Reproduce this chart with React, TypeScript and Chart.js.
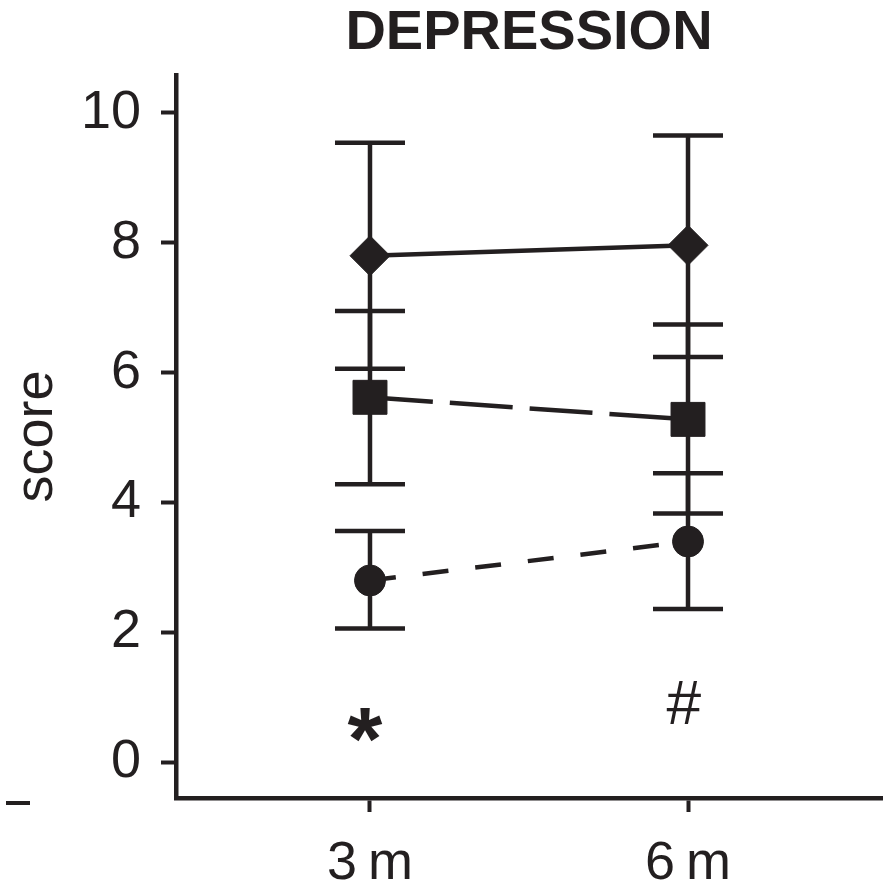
import React, { useEffect, useRef } from "react";
import { Chart, registerables } from "chart.js";

Chart.register(...registerables);

// ---- data ----
const categories = ["3\u2009m", "6\u2009m"];
const xPositions = [1, 2];
const yTicks = [0, 2, 4, 6, 8, 10];

const diamondMean = [7.8, 7.96];
const diamondLow = [6.06, 6.24];
const diamondHigh = [9.54, 9.65];

const squareMean = [5.62, 5.28];
const squareLow = [4.28, 3.83];
const squareHigh = [6.95, 6.74];

const circleMean = [2.8, 3.4];
const circleLow = [2.06, 2.36];
const circleHigh = [3.56, 4.45];

const markLabels = ["*", "#"];
const markValues = [0.58, 0.92];

// ---- style ----
const INK = "#231f20";
const FAMILY = "'Liberation Sans', Arial, Helvetica, sans-serif";
const W = 888;
const H = 895;

const errorBarPlugin = {
  id: "errorBarsAndMarks",
  beforeDatasetsDraw(chart: any) {
    const { ctx, scales } = chart;
    const x = scales.x;
    const y = scales.y;
    const groups = [
      [diamondLow, diamondHigh],
      [squareLow, squareHigh],
      [circleLow, circleHigh],
    ];
    ctx.save();
    ctx.strokeStyle = INK;
    ctx.lineWidth = 4.5;
    ctx.lineCap = "butt";
    groups.forEach(([lo, hi]) => {
      xPositions.forEach((xv, i) => {
        const px = x.getPixelForValue(xv);
        const top = y.getPixelForValue(hi[i]);
        const bot = y.getPixelForValue(lo[i]);
        ctx.beginPath();
        ctx.moveTo(px, top);
        ctx.lineTo(px, bot);
        ctx.moveTo(px - 35, top);
        ctx.lineTo(px + 35, top);
        ctx.moveTo(px - 35, bot);
        ctx.lineTo(px + 35, bot);
        ctx.stroke();
      });
    });
    ctx.restore();
  },
  afterDatasetsDraw(chart: any) {
    const { ctx, scales, chartArea } = chart;
    const x = scales.x;
    const y = scales.y;
    const targets = [
      { bold: true, ink: 34, dx: -5 },
      { bold: false, ink: 43, dx: -4 },
    ];
    ctx.save();
    ctx.fillStyle = INK;
    ctx.textAlign = "left";
    ctx.textBaseline = "alphabetic";
    markLabels.forEach((t, i) => {
      const st = targets[i];
      const weight = st.bold ? "bold " : "";
      ctx.font = `${weight}100px ${FAMILY}`;
      const m = ctx.measureText(t);
      const h = m.actualBoundingBoxAscent + m.actualBoundingBoxDescent;
      const size = (100 * st.ink) / h;
      ctx.font = `${weight}${size}px ${FAMILY}`;
      const m2 = ctx.measureText(t);
      const cx = x.getPixelForValue(xPositions[i]) + st.dx;
      const cy = y.getPixelForValue(markValues[i]);
      const bx = cx - (m2.actualBoundingBoxRight - m2.actualBoundingBoxLeft) / 2;
      const by = cy - (m2.actualBoundingBoxDescent - m2.actualBoundingBoxAscent) / 2;
      ctx.fillText(t, bx, by);
    });
    // stray dash at lower-left of the original figure
    ctx.strokeStyle = INK;
    ctx.lineWidth = 4;
    ctx.beginPath();
    ctx.moveTo(6, chartArea.bottom + 5);
    ctx.lineTo(30, chartArea.bottom + 5);
    ctx.stroke();
    ctx.restore();
  },
};

export default function App() {
  const ref = useRef<HTMLCanvasElement | null>(null);

  useEffect(() => {
    if (!ref.current) return;
    const chart = new Chart(ref.current, {
      type: "line",
      data: {
        datasets: [
          {
            label: "diamond",
            data: xPositions.map((xv, i) => ({ x: xv, y: diamondMean[i] })),
            borderColor: INK,
            backgroundColor: INK,
            borderWidth: 4.5,
            pointStyle: "rectRot",
            pointRadius: 20,
            pointBorderWidth: 1,
            pointBackgroundColor: INK,
            pointBorderColor: INK,
            borderDash: [],
          },
          {
            label: "square",
            data: xPositions.map((xv, i) => ({ x: xv, y: squareMean[i] })),
            borderColor: INK,
            backgroundColor: INK,
            borderWidth: 4.5,
            pointStyle: "rect",
            pointRadius: 24,
            pointBorderWidth: 1,
            pointBackgroundColor: INK,
            pointBorderColor: INK,
            borderDash: [63, 17],
          },
          {
            label: "circle",
            data: xPositions.map((xv, i) => ({ x: xv, y: circleMean[i] })),
            borderColor: INK,
            backgroundColor: INK,
            borderWidth: 4.5,
            pointStyle: "circle",
            pointRadius: 15.5,
            pointBorderWidth: 1,
            pointBackgroundColor: INK,
            pointBorderColor: INK,
            borderDash: [26, 27],
          },
        ],
      },
      options: {
        responsive: false,
        animation: false,
        devicePixelRatio: 1,
        layout: { autoPadding: false, padding: { left: 0, right: 6, top: 0, bottom: 0 } },
        plugins: {
          legend: { display: false },
          tooltip: { enabled: false },
          title: {
            display: true,
            text: "DEPRESSION",
            fullSize: false,
            color: INK,
            font: { family: FAMILY, size: 56, weight: "bold", lineHeight: 1.2 },
            padding: { top: 0, bottom: 8 },
          },
        },
        scales: {
          x: {
            type: "linear",
            min: 0.39,
            max: 2.61,
            afterBuildTicks: (s: any) => {
              s.ticks = xPositions.map((v) => ({ value: v }));
            },
            afterFit: (s: any) => {
              s.height = 97;
            },
            ticks: {
              includeBounds: false,
              autoSkip: false,
              maxRotation: 0,
              color: INK,
              padding: 20,
              font: { family: FAMILY, size: 54 },
              callback: (v: any) => {
                const idx = xPositions.indexOf(Number(v));
                return idx >= 0 ? categories[idx] : "";
              },
            },
            grid: {
              display: true,
              drawOnChartArea: false,
              drawTicks: true,
              tickLength: 14,
              tickWidth: 4,
              tickColor: INK,
            },
            border: { display: true, width: 4.5, color: INK },
          },
          y: {
            type: "linear",
            min: -0.55,
            max: 10.58,
            afterBuildTicks: (s: any) => {
              s.ticks = yTicks.map((v) => ({ value: v }));
            },
            afterFit: (s: any) => {
              s.width = 176;
            },
            ticks: {
              includeBounds: false,
              color: INK,
              padding: 20,
              font: { family: FAMILY, size: 54 },
              callback: (v: any) => String(v),
            },
            grid: {
              display: true,
              drawOnChartArea: false,
              drawTicks: true,
              tickLength: 15,
              tickWidth: 4,
              tickColor: INK,
            },
            border: { display: true, width: 4.5, color: INK },
            title: {
              display: true,
              text: "score",
              color: INK,
              font: { family: FAMILY, size: 54, lineHeight: 1.2 },
              padding: { top: 5, bottom: 0 },
            },
          },
        },
      },
      plugins: [errorBarPlugin],
    } as any);
    return () => chart.destroy();
  }, []);

  return (
    <div style={{ position: "absolute", left: 0, top: 0, width: W, height: H, background: "#fff" }}>
      <canvas ref={ref} width={W} height={H} style={{ display: "block", width: W, height: H }} />
    </div>
  );
}
